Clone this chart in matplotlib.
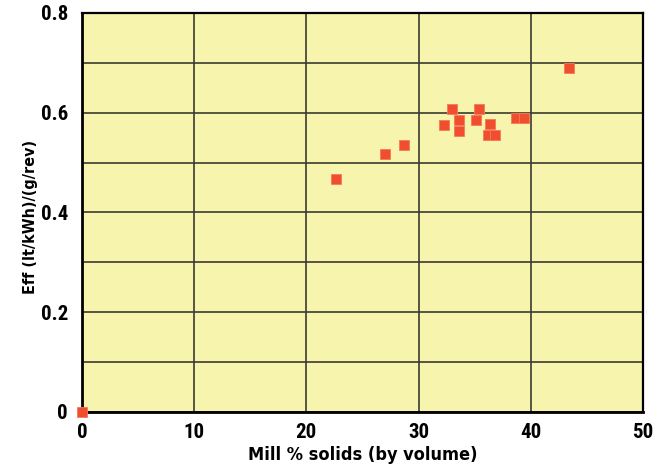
import numpy as np
import matplotlib.pyplot as plt

# mill % solids (by volume) vs efficiency
solids = [0.0, 22.6, 27.0, 28.7, 32.3, 33.0, 33.6, 33.6, 35.1, 35.4,
          36.4, 36.2, 36.8, 38.7, 39.4, 43.4]
eff = [0.0, 0.467, 0.517, 0.535, 0.576, 0.608, 0.586, 0.563, 0.586, 0.608,
       0.577, 0.556, 0.556, 0.590, 0.590, 0.689]

x_ticks = [0, 10, 20, 30, 40, 50]
y_ticks = [0, 0.2, 0.4, 0.6, 0.8]
y_labels = ["0", "0.2", "0.4", "0.6", "0.8"]

plt.rcParams['font.family'] = ['Roboto Condensed', 'DejaVu Sans']
plt.rcParams['font.weight'] = 'bold'

fig = plt.figure(figsize=(6.56, 4.68), dpi=100)
ax = fig.add_axes([0.125, 0.1197, 0.855, 0.8526])
ax.set_facecolor('#f7f4ad')

ax.set_xlim(0, 50)
ax.set_ylim(0, 0.8)
ax.set_xticks(x_ticks)
ax.set_yticks(y_ticks)
ax.set_yticklabels(y_labels)
ax.set_yticks(np.arange(0.1, 0.8, 0.2), minor=True)

ax.grid(True, which='both', color='#3a3a30', lw=1.2)
ax.set_axisbelow(True)
ax.tick_params(which='both', length=0)
ax.tick_params(axis='x', pad=8, labelsize=15)
ax.tick_params(axis='y', pad=10, labelsize=15)

for side in ['left', 'bottom']:
    ax.spines[side].set_linewidth(2)
for side in ['top', 'right']:
    ax.spines[side].set_linewidth(1.6)

ax.plot(solids, eff, 's', color='#f04e2e', markersize=6.5,
        markeredgecolor='#f47a5a', markeredgewidth=0.6, clip_on=False, zorder=5)

lab_font = dict(family='DejaVu Sans', stretch='condensed', fontweight='bold')
ax.set_xlabel("Mill % solids (by volume)", fontsize=13, **lab_font)
ax.set_ylabel("Eff (lt/kWh)/(g/rev)", fontsize=11.5, **lab_font)
ax.xaxis.set_label_coords(0.5, -0.085)
ax.yaxis.set_label_coords(-0.078, 0.49)

fig.savefig('out.png', dpi=100)
